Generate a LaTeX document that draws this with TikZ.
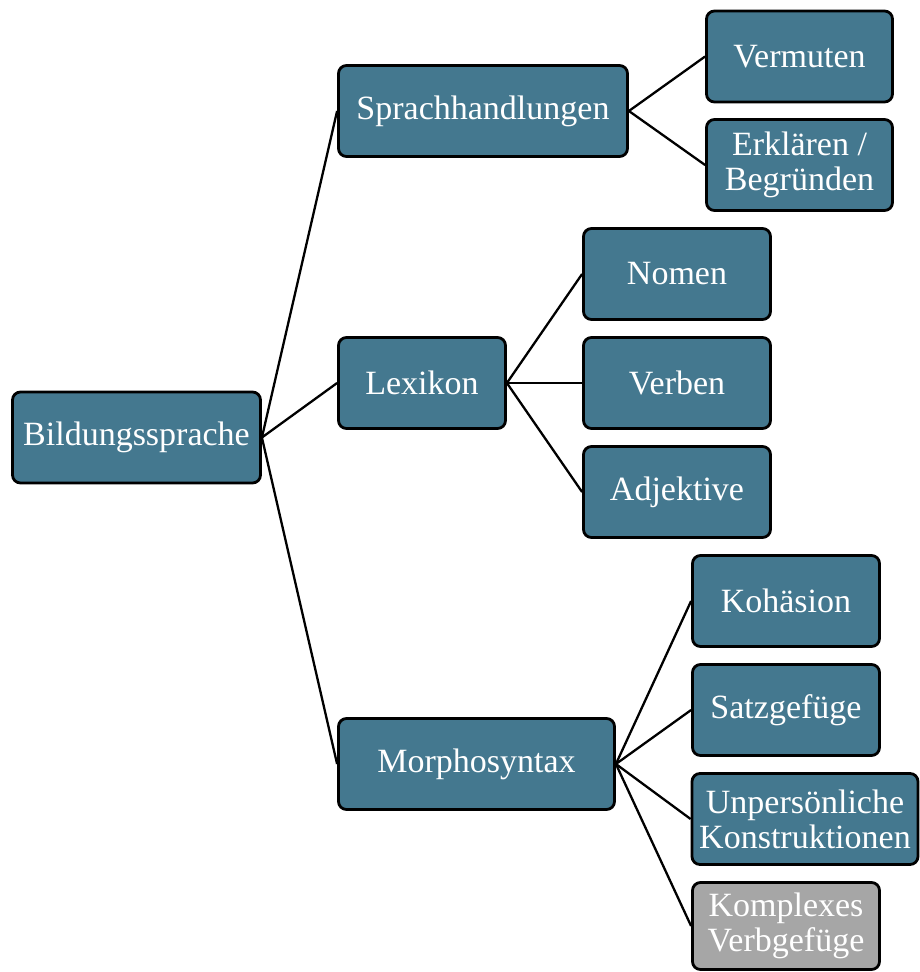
\documentclass[tikz,border=0pt]{standalone}
\usepackage{fontspec}
\setmainfont{Liberation Serif}
\definecolor{boxblue}{RGB}{68,120,143}
\definecolor{boxgrey}{RGB}{166,166,166}
\begin{document}
\begin{tikzpicture}[x=1pt,y=-1pt,
  box/.style={draw=black, line width=2.8pt, rounded corners=8pt, fill=boxblue,
    text=white, font=\fontsize{34}{35}\selectfont, align=center, inner sep=0pt,
    minimum height=91pt},
  greybox/.style={box, fill=boxgrey},
  link/.style={draw=black, line width=2.3pt}]
\useasboundingbox (0,0) rectangle (920,972);
\node[box, minimum width=248pt] (bild) at (136.5,437.5) {Bildungssprache};
\node[box, minimum width=289pt] (spr) at (483,111) {Sprachhandlungen};
\node[box, minimum width=167pt] (lex) at (422,383) {Lexikon};
\node[box, minimum width=276pt] (mor) at (476.5,764) {Morphosyntax};
\node[box, minimum width=186pt] (ver) at (799.5,56.5) {Vermuten};
\node[box, minimum width=186pt] (erk) at (799.5,165) {Erklären /\\Begründen};
\node[box, minimum width=187pt] (nom) at (677,274) {Nomen};
\node[box, minimum width=187pt] (verb) at (677,383) {Verben};
\node[box, minimum width=187pt] (adj) at (677,492) {Adjektive};
\node[box, minimum width=187pt] (koh) at (786,601) {Kohäsion};
\node[box, minimum width=187pt] (satz) at (786,710) {Satzgefüge};
\node[box, minimum width=226pt] (unp) at (805,819) {Unpersönliche\\Konstruktionen};
\node[greybox, minimum width=187pt, minimum height=87pt] (kom) at (786,926) {Komplexes\\Verbgefüge};
\draw[link] (bild.east) -- (spr.west);
\draw[link] (bild.east) -- (lex.west);
\draw[link] (bild.east) -- (mor.west);
\draw[link] (spr.east) -- (ver.west);
\draw[link] (spr.east) -- (erk.west);
\draw[link] (lex.east) -- (nom.west);
\draw[link] (lex.east) -- (verb.west);
\draw[link] (lex.east) -- (adj.west);
\draw[link] (mor.east) -- (koh.west);
\draw[link] (mor.east) -- (satz.west);
\draw[link] (mor.east) -- (unp.west);
\draw[link] (mor.east) -- (kom.west);
\end{tikzpicture}
\end{document}
